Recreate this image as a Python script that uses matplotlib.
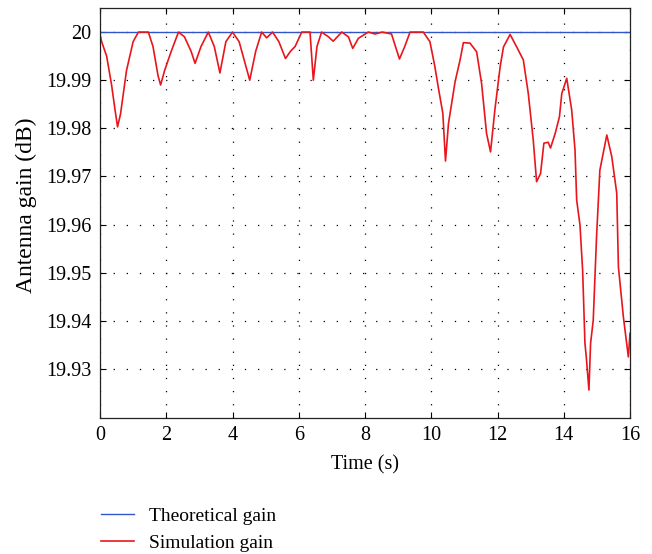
import matplotlib
matplotlib.use("Agg")
import matplotlib.pyplot as plt
from matplotlib.ticker import FuncFormatter

# Data
t_sim = [0.0, 0.05, 0.2, 0.35, 0.45, 0.53, 0.62, 0.8, 1.0, 1.16, 1.46, 1.6, 1.75, 1.83, 1.95, 2.15, 2.37,
         2.55, 2.75, 2.87, 3.05, 3.27, 3.45, 3.62, 3.8, 4.0, 4.2, 4.4, 4.52, 4.7, 4.88, 5.03, 5.21,
         5.4, 5.6, 5.75, 5.89, 6.09, 6.34, 6.44, 6.55, 6.69, 6.9, 7.04, 7.3, 7.5, 7.63, 7.8, 8.1,
         8.3, 8.52, 8.8, 8.92, 9.04, 9.2, 9.36, 9.76, 9.96, 10.11, 10.21, 10.35, 10.43, 10.52, 10.72,
         10.87, 10.97, 11.17, 11.37, 11.52, 11.67, 11.79, 11.92, 12.08, 12.18, 12.38, 12.58, 12.78,
         12.93, 13.08, 13.18, 13.3, 13.4, 13.53, 13.6, 13.74, 13.87, 13.94, 14.09, 14.24, 14.34,
         14.39, 14.49, 14.57, 14.64, 14.68, 14.76, 14.81, 14.89, 14.99, 15.09, 15.3, 15.45, 15.6,
         15.65, 15.8, 15.95, 16.0]
g_sim = [19.9995, 19.998, 19.995, 19.989, 19.984, 19.9803, 19.983, 19.992, 19.998, 20.0, 20.0, 19.997,
         19.991, 19.989, 19.992, 19.996, 20.0,
         19.999, 19.996, 19.9935, 19.997, 20.0, 19.997, 19.9915, 19.998, 20.0, 19.998, 19.993, 19.990,
         19.996, 20.0, 19.9988, 20.0,
         19.998, 19.9945, 19.996, 19.997, 20.0, 20.0, 19.990, 19.997, 20.0, 19.999, 19.9981, 20.0,
         19.999, 19.9966, 19.9987, 20.0,
         19.9996, 20.0, 19.9996, 19.997, 19.9944, 19.997, 20.0, 20.0, 19.998, 19.9928, 19.9886,
         19.9831, 19.9732, 19.981, 19.9897,
         19.9942, 19.9978, 19.9977, 19.9959, 19.9893, 19.9789, 19.9751, 19.9838, 19.9928, 19.9969,
         19.9995, 19.9969, 19.9942,
         19.9872, 19.9775, 19.9689, 19.9706, 19.9769, 19.9771, 19.9759, 19.9789, 19.9824, 19.9872,
         19.9904, 19.9838, 19.9755,
         19.9651, 19.9599, 19.9505, 19.9353, 19.9325, 19.9256, 19.9353, 19.9401, 19.9574, 19.9713,
         19.9786, 19.9741, 19.9665,
         19.9512, 19.9408, 19.9325, 19.9374]
t_theory = [0.0, 16.0]
g_theory = [20.0, 20.0]
x_ticks = [0, 2, 4, 6, 8, 10, 12, 14, 16]
y_ticks = [19.93, 19.94, 19.95, 19.96, 19.97, 19.98, 19.99, 20.0]
labels = ["Theoretical gain", "Simulation gain"]

plt.rcParams['font.family'] = ['Liberation Serif', 'DejaVu Serif']
plt.rcParams['font.size'] = 14

W, H = 652, 554
fig = plt.figure(figsize=(W / 100, H / 100), dpi=100)
ax = fig.add_axes([100 / W, 1 - 418 / H, 530 / W, 410 / H])

ax.plot(t_theory, g_theory, color='#3355cc', lw=1.0, label=labels[0])
ax.plot(t_sim, g_sim, color='#e8161c', lw=1.2, label=labels[1])

ax.set_xlim(0, 16)
ax.set_ylim(19.9198, 20.005)
ax.set_xticks(x_ticks)
ax.set_yticks(y_ticks)
ax.yaxis.set_major_formatter(FuncFormatter(lambda v, p: f"{v:.2f}".rstrip('0').rstrip('.')))
ax.grid(True, color='black', linestyle=(0, (1, 9.5)), linewidth=0.9)
ax.tick_params(direction='in', top=True, right=True, length=4, width=0.8, labelsize=14.5, pad=6)
for s in ax.spines.values():
    s.set_linewidth(0.9)
    s.set_color('#222222')
ax.set_xlabel("Time (s)", fontsize=14.5)
ax.set_ylabel("Antenna gain (dB)", fontsize=17)
ax.xaxis.set_label_coords(0.5, -(465 - 418) / 410, transform=ax.transAxes)
ax.xaxis.label.set_va('center')
ax.yaxis.set_label_coords(-(100 - 26) / 530, 0.5 - (205 - 213) / 410)
ax.yaxis.label.set_va('center')

fig.legend(loc='upper left', bbox_to_anchor=(101 / W, 1 - 507 / H), frameon=False,
           borderpad=0, borderaxespad=0, handlelength=1.7, handletextpad=0.75,
           labelspacing=0.5, fontsize=14)

fig.savefig("out.png", dpi=100)
